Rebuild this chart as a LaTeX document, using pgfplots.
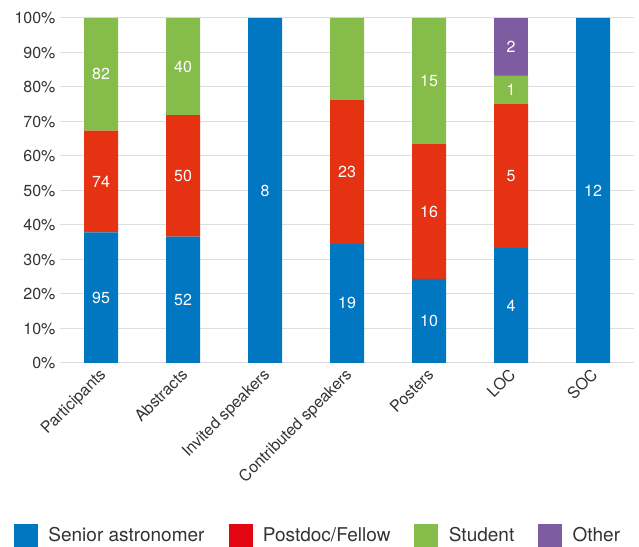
\documentclass[border=0pt]{standalone}
\usepackage{pgfplots}
\pgfplotsset{compat=1.18}
\usepackage{pgfplotstable}
\usepackage{fontspec}
\setmainfont{TeX Gyre Heros}
\definecolor{cblue}{HTML}{0077C0}
\definecolor{cred}{HTML}{E53212}
\definecolor{cgreen}{HTML}{86BC4A}
\definecolor{cpurple}{HTML}{7F5BA2}
\definecolor{lred}{HTML}{E30613}
\definecolor{txt}{HTML}{333333}
\definecolor{gridc}{HTML}{DDDDDD}
\newcommand{\legfont}{\fontsize{19}{21}\selectfont}

\pgfplotstableread{
x pct n
0 37.85 95
1 36.62 52
2 100 8
3 34.55 19
4 24.39 10
5 33.33 4
6 100 12
}\senior
\pgfplotstableread{
x pct n
0 29.48 74
1 35.21 50
2 0 {}
3 41.82 23
4 39.02 16
5 41.67 5
6 0 {}
}\postdoc
\pgfplotstableread{
x pct n
0 32.67 82
1 28.17 40
2 0 {}
3 23.64 13
4 36.59 15
5 8.33 1
6 0 {}
}\student
\pgfplotstableread{
x pct n
0 0 {}
1 0 {}
2 0 {}
3 0 {}
4 0 {}
5 16.67 2
6 0 {}
}\other

\begin{document}
\begin{tikzpicture}[x=1pt,y=1pt]
\begin{axis}[
  at={(0,0)}, anchor=south west,
  scale only axis, width=574pt, height=345pt,
  ybar stacked, bar width=34pt,
  xmin=-0.5, xmax=6.5, ymin=0, ymax=100,
  xtick=data,
  xticklabels={Participants,Abstracts,Invited speakers,Contributed speakers,Posters,LOC,SOC},
  ytick={0,10,...,100},
  yticklabel={\pgfmathprintnumber{\tick}\%},
  /pgf/number format/assume math mode=true,
  ymajorgrids, major grid style={draw=gridc, line width=1pt},
  axis line style={draw=none},
  major tick length=0pt,
  tick label style={font=\fontsize{16}{18}\selectfont, text=txt},
  yticklabel style={xshift=-1pt},
  xticklabel style={rotate=45, anchor=north east, inner sep=1pt, xshift=-4pt, yshift=0pt},
  point meta=explicit symbolic,
  nodes near coords,
  every node near coord/.append style={anchor=center, text=white, font=\fontsize{16}{18}\selectfont},
  legend columns=4,
  legend style={at={(-0.0801,-0.4986)}, anchor=west, draw=none, fill=none, inner sep=0pt, outer sep=0pt,
    text=txt,
    nodes={inner sep=0pt},
    /tikz/every odd column/.append style={column sep=11pt},
    /tikz/every even column/.append style={column sep=24pt}},
  legend cell align=left,
]
\addplot[fill=cblue, draw=none, forget plot] table[x=x, y=pct, meta=n] {\senior};
\addplot[fill=cred, draw=none, forget plot] table[x=x, y=pct, meta=n] {\postdoc};
\addplot[fill=cgreen, draw=none, forget plot] table[x=x, y=pct, meta=n] {\student};
\addplot[fill=cpurple, draw=none, forget plot] table[x=x, y=pct, meta=n] {\other};
\addlegendimage{legend image code/.code={\fill[cblue] (0pt,-11pt) rectangle (23pt,11pt);}}
\addlegendentry{\legfont Senior astronomer}
\addlegendimage{legend image code/.code={\fill[lred] (0pt,-11pt) rectangle (23pt,11pt);}}
\addlegendentry{\legfont Postdoc/Fellow}
\addlegendimage{legend image code/.code={\fill[cgreen] (0pt,-11pt) rectangle (23pt,11pt);}}
\addlegendentry{\legfont Student}
\addlegendimage{legend image code/.code={\fill[cpurple] (0pt,-11pt) rectangle (23pt,11pt);}}
\addlegendentry{\legfont Other}
\end{axis}
\path (-60pt,363pt) rectangle (579pt,-182pt);
\end{tikzpicture}
\end{document}
